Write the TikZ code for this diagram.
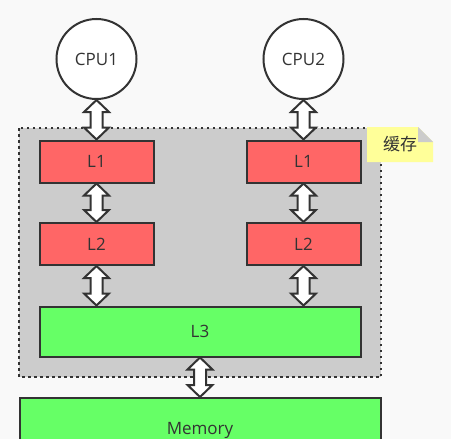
\documentclass[tikz,border=0pt]{standalone}
\usepackage{fontspec}
\setmainfont{Open Sans}
\newfontfamily\cjk{Noto Sans CJK SC}
\definecolor{line_c}{HTML}{333333}
\definecolor{back_c}{HTML}{F9F9F9}
\definecolor{cache_c}{HTML}{CCCCCC}
\definecolor{lvl_c}{HTML}{FF6666}
\definecolor{mem_c}{HTML}{66FF66}
\definecolor{note_c}{HTML}{FFFF99}
\usepackage{tikz}
\usetikzlibrary{calc,
                positioning}

% fat two-headed arrow from #1 (top) down to #2 (bottom)
\newcommand{\duplex}[2]{%
	\draw[bus] (#1) -- ++(12.5,12) -- ++(-6.5,0)
	-- ([shift={(6,-12)}]#2) -- ++(6.5,0) -- (#2)
	-- ++(-12.5,-12) -- ++(6.5,0)
	-- ([shift={(-6,12)}]#1) -- ++(-6.5,0) -- cycle;
}

\begin{document}
\begin{tikzpicture}[
			x=1pt, y=-1pt,
			line width=2pt,
			font=\fontsize{17}{20}\selectfont,
			cpu/.style = {circle, draw=line_c, fill=white, minimum size=80pt, inner sep=0pt, text=line_c},
			level/.style = {rectangle, draw=line_c, fill=lvl_c, minimum width=114pt, minimum height=42pt, inner sep=0pt, text=line_c},
			shared/.style = {rectangle, draw=line_c, fill=mem_c, inner sep=0pt, text=line_c},
			bus/.style = {draw=line_c, fill=white, line join=miter},
			]
			\useasboundingbox (0,0) rectangle (451,439);
			\clip (0,0) rectangle (451,439);
			\fill[back_c] (0,0) rectangle (451,439);
			% cache area
			\draw[line_c, fill=cache_c, line width=2pt, dash pattern=on 2.5pt off 3.5pt]
			      (19,128) rectangle (381,377);
			% cpus
			\node[cpu] (cpu1) at (96.5,59) {CPU1};
			\node[cpu] (cpu2) at (303.5,59) {CPU2};
			% levels
			\node[level] (l1a) at (96.5,161.5) {L1};
			\node[level] (l1b) at (303.5,161.5) {L1};
			\node[level] (l2a) at (96.5,244) {L2};
			\node[level] (l2b) at (303.5,244) {L2};
			\node[shared, minimum width=321pt, minimum height=50pt] (l3) at (200,331.5) {L3};
			\node[shared, minimum width=361pt, minimum height=64pt] (mem) at (200,430) {Memory};
			% note
			\node[minimum width=64pt, minimum height=33pt, inner sep=0pt] (note) at (400,144.5) {};
			\fill[note_c] (note.north west) -- ([shift={(-15,0)}]note.north east)
			      -- ([shift={(0,15)}]note.north east) -- (note.south east)
			      -- (note.south west) -- cycle;
			\fill[cache_c] ([shift={(-15,0)}]note.north east)
			      -- ([shift={(0,15)}]note.north east) -- ([shift={(-15,15)}]note.north east) -- cycle;
			\node[text=line_c, font=\fontsize{17}{20}\selectfont\cjk] at (note.center) {缓存};
			% edges
			\duplex{cpu1.south}{l1a.north}
			\duplex{cpu2.south}{l1b.north}
			\duplex{l1a.south}{l2a.north}
			\duplex{l1b.south}{l2b.north}
			\duplex{l2a.south}{l2a.south |- l3.north}
			\duplex{l2b.south}{l2b.south |- l3.north}
			\duplex{l3.south}{mem.north}
		\end{tikzpicture}
\end{document}
